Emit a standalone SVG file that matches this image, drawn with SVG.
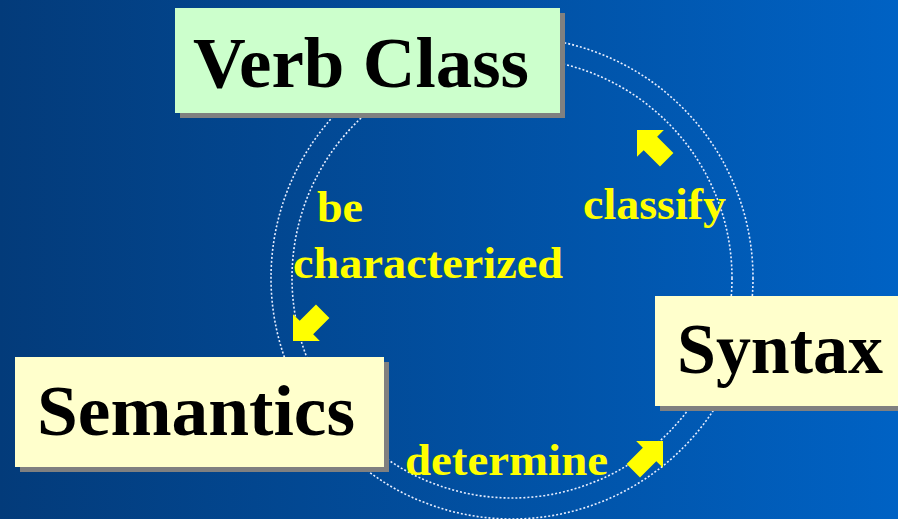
<svg xmlns="http://www.w3.org/2000/svg" width="898" height="519" viewBox="0 0 898 519">
  <defs>
    <linearGradient id="bg" x1="0" y1="0" x2="1" y2="0">
      <stop offset="0" stop-color="#033b7a"/>
      <stop offset="1" stop-color="#0062c4"/>
    </linearGradient>
    <path id="arrow" d="M0,0 L-19,-19 L-19,-9.5 L-42,-9.5 L-42,9.5 L-19,9.5 L-19,19 Z"/>
    <style>
      .ring { fill: none; stroke: #e8eeff; stroke-width: 1.6; stroke-dasharray: 2 2; }
      .shadow { fill: #808080; }
      .title { font-family: "Liberation Serif", "Times New Roman", serif; font-weight: bold; font-size: 72px; fill: #000; }
      .label { font-family: "Liberation Serif", "Times New Roman", serif; font-weight: bold; font-size: 45px; fill: #ffff00; }
      .arw { fill: #ffff00; }
    </style>
  </defs>
  <rect x="0" y="0" width="898" height="519" fill="url(#bg)"/>
  <g id="connectors">
    <circle class="ring" cx="512" cy="278" r="241"/>
    <circle class="ring" cx="512" cy="278" r="220"/>
    <use href="#arrow" class="arw" transform="translate(637,130) rotate(225)"/>
    <use href="#arrow" class="arw" transform="translate(293,341) rotate(135)"/>
    <use href="#arrow" class="arw" transform="translate(663,441) rotate(-45)"/>
    <text class="label" x="583" y="219" textLength="143" lengthAdjust="spacingAndGlyphs">classify</text>
    <text class="label" x="317" y="222" textLength="46" lengthAdjust="spacingAndGlyphs">be</text>
    <text class="label" x="293" y="278" textLength="270" lengthAdjust="spacingAndGlyphs">characterized</text>
    <text class="label" x="405" y="475" textLength="203" lengthAdjust="spacingAndGlyphs">determine</text>
  </g>
  <g id="verb-class">
    <rect class="shadow" x="180" y="13" width="385" height="105"/>
    <rect x="175" y="8" width="385" height="105" fill="#ccffcc"/>
    <text class="title" x="193" y="87" textLength="336" lengthAdjust="spacingAndGlyphs">Verb Class</text>
  </g>
  <g id="semantics">
    <rect class="shadow" x="20" y="362" width="369" height="110"/>
    <rect x="15" y="357" width="369" height="110" fill="#ffffcc"/>
    <text class="title" x="37" y="435" textLength="318" lengthAdjust="spacingAndGlyphs">Semantics</text>
  </g>
  <g id="syntax">
    <rect class="shadow" x="660" y="301" width="250" height="110"/>
    <rect x="655" y="296" width="250" height="110" fill="#ffffcc"/>
    <text class="title" x="677" y="373" textLength="206" lengthAdjust="spacingAndGlyphs">Syntax</text>
  </g>
</svg>
